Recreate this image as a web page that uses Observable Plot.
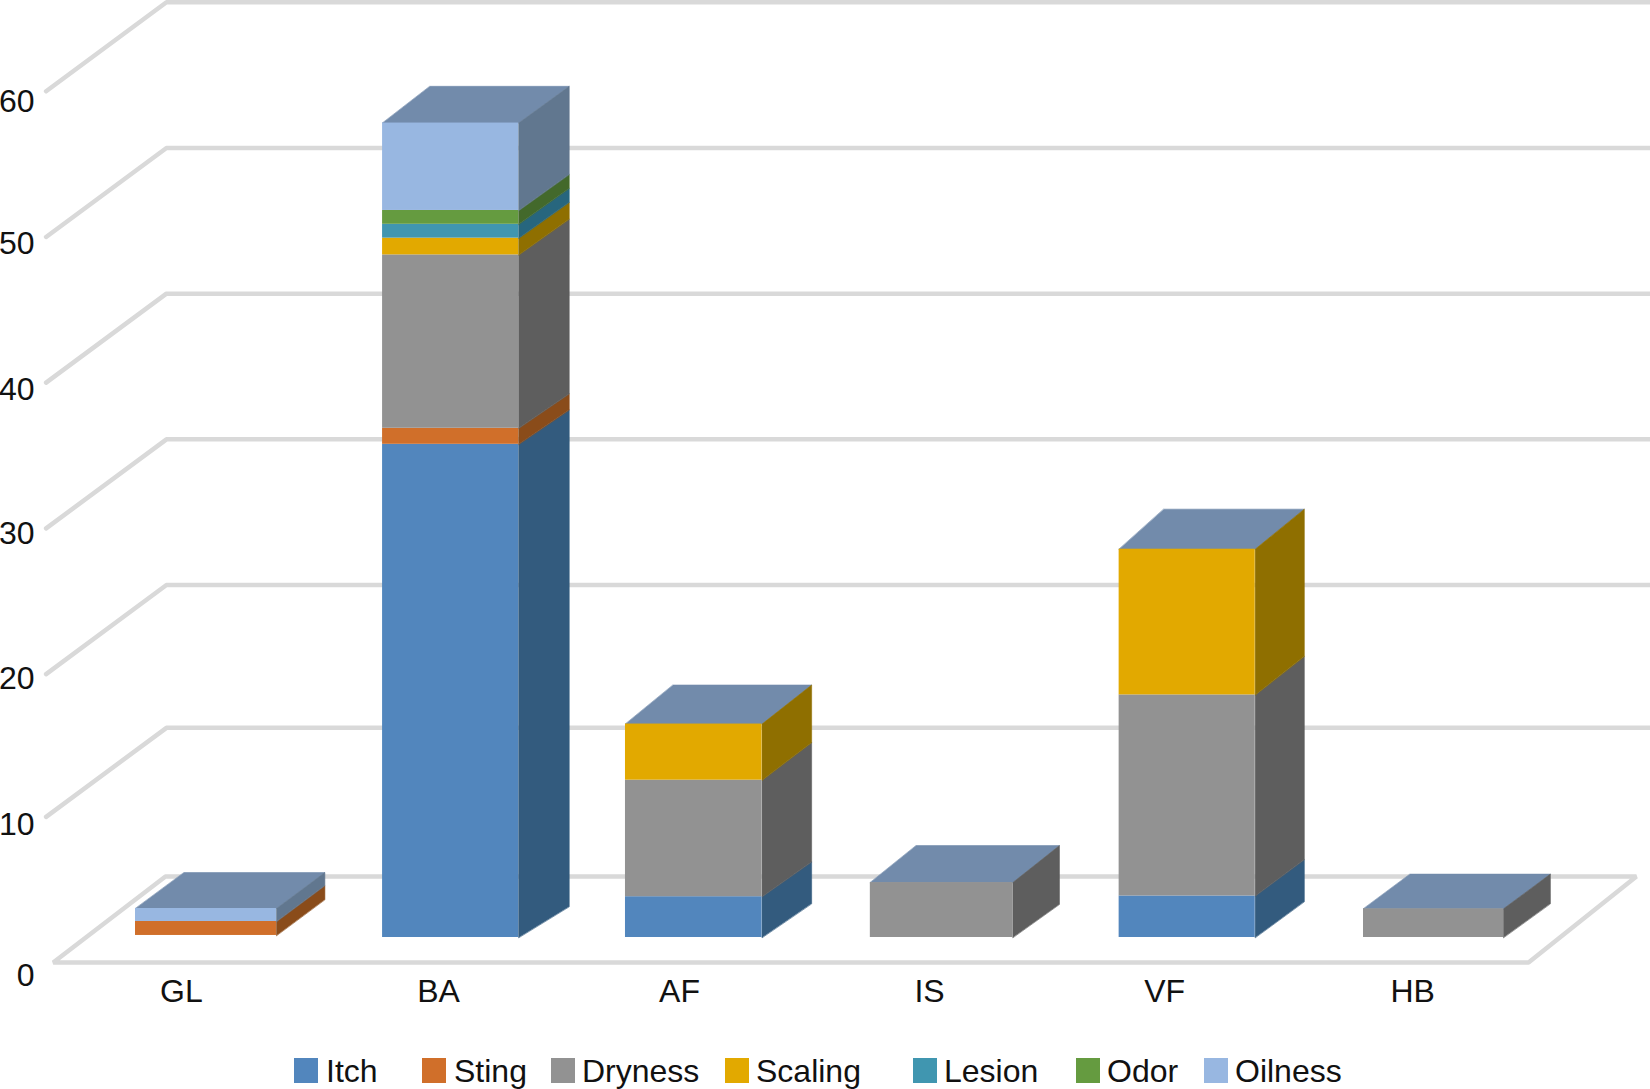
<!DOCTYPE html>
<html>
<head>
<meta charset="utf-8">
<script src="https://cdn.jsdelivr.net/npm/d3@7"></script>
<script src="https://cdn.jsdelivr.net/npm/@observablehq/plot@0.6"></script>
<style>
  html, body { margin: 0; padding: 0; background: #fff; }
  #chart { position: relative; width: 1650px; height: 1089px; overflow: hidden; font-family: "Liberation Sans", Arial, sans-serif; color: #111; }
  #chart svg { display: block; }
  #legend { position: absolute; left: 0; top: 1050px; width: 1650px; height: 39px; }
  .sw { position: absolute; top: 8px; width: 24px; height: 25px; }
  .lb { position: absolute; top: 2px; font-size: 32px; line-height: 38px; }
</style>
</head>
<body>
<div id="chart"></div>
<script>
// ---- values ----
const categories = ["GL", "BA", "AF", "IS", "VF", "HB"];
const seriesNames = ["Itch", "Sting", "Dryness", "Scaling", "Lesion", "Odor", "Oilness"];
const itch    = [0,    33.85, 2.8,  0,    2.85, 0];
const sting   = [0.96, 1.1,   0,    0,    0,    0];
const dryness = [0,    11.9,  8,    3.77, 13.8, 1.97];
const scaling = [0,    1.15,  3.85, 0,    10,   0];
const lesion  = [0,    0.95,  0,    0,    0,    0];
const odor    = [0,    0.95,  0,    0,    0,    0];
const oilness = [0.89, 6.0,   0,    0,    0,    0];
const yTicks = [0, 10, 20, 30, 40, 50, 60];

// ---- styling ----
const frontColors = ["#5286bd", "#d06f2a", "#929292", "#e2a900", "#4096b0", "#659b40", "#98b7e1"];
const sideColors  = ["#335b7e", "#8a4c1a", "#5e5e5e", "#8f6f00", "#27667e", "#43692b", "#61778f"];
const topColor = "#728bab";
const gridColor = "#d9d9d9";

// ---- layout of the pseudo-3D box, in slot (x) and value (y) units ----
const slotNudge = [0.002, -0.002, -0.012, -0.003, -0.003, 0];
const halfWidth = [0.287, 0.277, 0.278, 0.290, 0.277, 0.285];
const depthRight = [0.197, 0.206, 0.202, 0.190, 0.200, 0.191];
const depthLeft  = [0.198, 0.193, 0.194, 0.187, 0.182, 0.190];
const liftBase = [2.47, 2.13, 2.33, 2.29, 2.47, 2.33];
const liftTop  = [2.47, 2.52, 2.68, 2.54, 2.75, 2.38];
const baseGap  = [0.14, 0, 0, 0, 0, 0];
const labelSlots = [-0.098, 0.949, 1.930, 2.948, 3.905, 4.915];
const labelLevel = -3.70;
const tickSlot = -0.696;
const tickLabelLevels = [-2.61, 7.76, 17.76, 27.68, 37.6, 47.63, 57.33];
const wallNudge = [0, 0.2, 0, 0, 0, 0, 0];
const wallBackSlot = -0.159, wallFrontSlot = -0.649, wallRise = 4.19, wallDrop = -1.92;
const floorFL = -0.62, floorFR = 5.387, floorBR = 5.826, floorBL = -0.163, floorFront = -1.72;
const legendSwatchX = [294, 422, 551, 725, 913, 1076, 1204];
const legendTextX = [326, 454, 582, 756, 944, 1107, 1235];

const columns = [itch, sting, dryness, scaling, lesion, odor, oilness];

// ---- derive faces from the values ----
const fronts = [], sides = [], tops = [];
categories.forEach((cat, c) => {
  const mid = c + slotNudge[c];
  const left = mid - halfWidth[c], right = mid + halfWidth[c];
  const base = baseGap[c];
  const total = base + d3.sum(columns, col => col[c]);
  const lift = v => liftBase[c] + (liftTop[c] - liftBase[c]) * (v - base) / (total - base);
  let y0 = base;
  columns.forEach((col, s) => {
    const v = col[c];
    if (!v) return;
    const y1 = y0 + v;
    fronts.push({series: seriesNames[s], x1: left, x2: right, y1: y0, y2: y1});
    const id = cat + s;
    sides.push(
      {id, fill: sideColors[s], x: right, y: y0},
      {id, fill: sideColors[s], x: right, y: y1},
      {id, fill: sideColors[s], x: right + depthRight[c], y: y1 + lift(y1)},
      {id, fill: sideColors[s], x: right + depthRight[c], y: y0 + lift(y0)}
    );
    y0 = y1;
  });
  tops.push(
    {id: cat, x: left, y: total},
    {id: cat, x: right, y: total},
    {id: cat, x: right + depthRight[c], y: total + lift(total)},
    {id: cat, x: left + depthLeft[c], y: total + lift(total)}
  );
});

const wall = yTicks.slice(1).flatMap((t, i) => {
  const n = wallNudge[i + 1];
  return [
    {t, x: wallFrontSlot, y: t + wallDrop + n},
    {t, x: wallBackSlot, y: t + wallRise + n},
    {t, x: 5.95, y: t + wallRise + n}
  ];
});
const floor = [
  {x: floorBL, y: wallRise},
  {x: floorFL, y: floorFront},
  {x: floorFR, y: floorFront},
  {x: floorBR, y: wallRise}
];

const chart = Plot.plot({
  width: 1650,
  height: 1050,
  margin: 0,
  style: {background: "#fff", fontFamily: '"Liberation Sans", Arial, sans-serif', overflow: "hidden"},
  x: {domain: [-205 / 245.6, 1445 / 245.6], range: [0, 1650], axis: null},
  y: {domain: [0, 60], range: [937, 62.8], axis: null},
  color: {domain: seriesNames, range: frontColors},
  marks: [
    Plot.line(wall, {x: "x", y: "y", z: "t", stroke: gridColor, strokeWidth: 4.5, strokeLinejoin: "miter"}),
    Plot.line(floor, {x: "x", y: "y", curve: "linear-closed", stroke: gridColor, strokeWidth: 4.5, strokeLinejoin: "miter"}),
    Plot.line(tops, {x: "x", y: "y", z: "id", curve: "linear-closed", fill: topColor, stroke: topColor, strokeWidth: 0.6}),
    Plot.line(sides, {x: "x", y: "y", z: "id", curve: "linear-closed", fill: "fill", stroke: "fill", strokeWidth: 0.6}),
    Plot.rect(fronts, {x1: "x1", x2: "x2", y1: "y1", y2: "y2", fill: "series"}),
    Plot.text(yTicks, {x: () => tickSlot, y: (t, i) => tickLabelLevels[i], text: t => String(t), textAnchor: "end", fontSize: 32, fill: "#111"}),
    Plot.text(categories, {x: (d, i) => labelSlots[i], y: () => labelLevel, text: d => d, fontSize: 32, fill: "#111"})
  ]
});

const root = document.getElementById("chart");
root.appendChild(chart);

const legend = document.createElement("div");
legend.id = "legend";
seriesNames.forEach((name, i) => {
  const sw = document.createElement("div");
  sw.className = "sw";
  sw.style.left = legendSwatchX[i] + "px";
  sw.style.background = frontColors[i];
  const lb = document.createElement("div");
  lb.className = "lb";
  lb.style.left = legendTextX[i] + "px";
  lb.textContent = name;
  legend.append(sw, lb);
});
root.appendChild(legend);
</script>
</body>
</html>
